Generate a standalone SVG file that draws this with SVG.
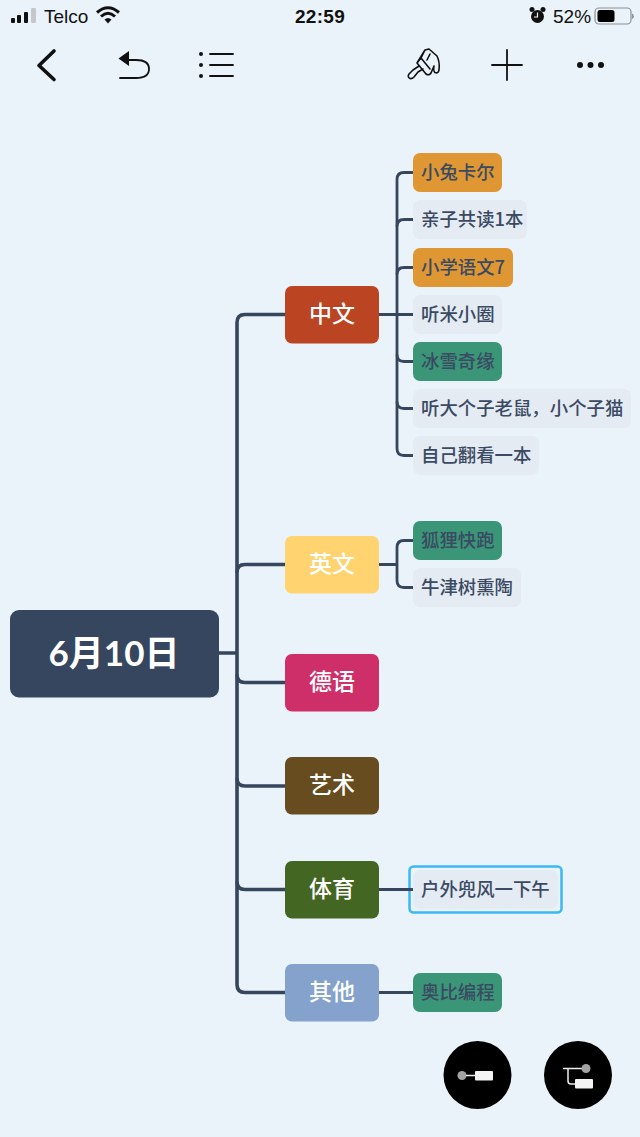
<svg xmlns="http://www.w3.org/2000/svg" width="640" height="1137" viewBox="0 0 640 1137">
<style>
text{font-family:"Noto Sans CJK SC","Noto Sans",sans-serif}
.c1{fill:none;stroke:#35465e;stroke-width:3.6}
.c2{fill:none;stroke:#35465e;stroke-width:2.8}
.b{font-size:23px;font-weight:500;fill:#fff;text-anchor:middle}
.l{font-size:18.400px;font-weight:500;fill:#3a4a63}
.ic{fill:none;stroke:#111;stroke-linecap:round;stroke-linejoin:round}
.st{font-family:"Liberation Sans",Arial,sans-serif;font-size:19px;fill:#111}
</style>
<rect width="640" height="1137" fill="#ebf3fa"/>
<g id="statusbar">
<rect x="11" y="18" width="4" height="5" rx="1" fill="#111"/>
<rect x="17" y="15" width="4" height="8" rx="1" fill="#111"/>
<rect x="24" y="12" width="4" height="11" rx="1" fill="#111"/>
<rect x="31" y="8" width="5" height="15" rx="1" fill="#c4c8cc"/>
<text class="st" x="44" y="23">Telco</text>
<path d="M97 12.500Q108 3 119 12.500M101 16.500Q108 10 115 16.500" fill="none" stroke="#111" stroke-width="3"/>
<path d="M104.500 19.500Q108 16.500 111.500 19.500L108 23.500Z" fill="#111"/>
<text class="st" x="320" y="23" text-anchor="middle" font-weight="700" style="letter-spacing:.3px">22:59</text>
<circle cx="537.500" cy="16.500" r="6.500" fill="#111"/>
<circle cx="532" cy="9.500" r="2.500" fill="#111"/><circle cx="543" cy="9.500" r="2.500" fill="#111"/>
<path d="M537.500 12.500V17H534" stroke="#ebf3fa" stroke-width="1.200" fill="none"/>
<text class="st" x="553" y="23">52%</text>
<rect x="595" y="8" width="36" height="16" rx="4" fill="none" stroke="#8d9094" stroke-width="1.200"/>
<rect x="597.500" y="10" width="17" height="12" rx="2.500" fill="#000"/>
<path d="M632 13.500a3 3 0 0 1 0 5.500z" fill="#8d9094"/>
</g>
<g id="toolbar">
<path class="ic" stroke-width="3.600" d="M54 51L39 65.500L54 79.500"/>
<path class="ic" stroke-width="1.800" d="M128 60H136Q149 60 149 69Q149 78 136 78H120"/>
<path d="M118.500 58.500L129 51V66Z" fill="#111"/>
<circle cx="201" cy="54" r="2" fill="#111"/><circle cx="201" cy="65" r="2" fill="#111"/><circle cx="201" cy="76" r="2" fill="#111"/>
<path class="ic" stroke-width="1.800" d="M210 54H233M210 65H233M210 76H233"/>
<path class="ic" stroke-width="1.600" d="M425 50L429 49L437 56Q440 62 439 70Q438 74 435 72.500Q433 71 434 66L431 73Q429 76 426 74L417 63ZM425 50L421 58M417 63L421 58L430 69M419 66L413 70L409 74Q407 77 410 78.500Q412 79 414 77L418 72L423 69M430 54L427 60"/>
<path class="ic" stroke-width="1.800" d="M507 50V80M492 65H522"/>
<circle cx="580" cy="65" r="3" fill="#111"/><circle cx="590.500" cy="65" r="3" fill="#111"/><circle cx="601" cy="65" r="3" fill="#111"/>
</g>
<g id="connectors">
<path class="c1" d="M219 653H237M285 314.500H245Q237 314.500 237 322.500V984.500Q237 992.500 245 992.500H285"/>
<path class="c1" d="M285 564.500H245Q237 564.500 237 572.500M285 682.500H245Q237 682.500 237 674.500M285 786H245Q237 786 237 778M285 889.500H245Q237 889.500 237 881.500"/>
<path class="c2" d="M379 314.500H413M413 172.500H404Q397 172.500 397 179.500V448.500Q397 455.500 404 455.500H413"/>
<path class="c2" d="M413 219.500H404Q397 219.500 397 226.500M413 267.500H404Q397 267.500 397 274.500M413 361.500H404Q397 361.500 397 354.500M413 408.500H404Q397 408.500 397 401.500"/>
<path class="c2" d="M379 564.500H397M413 540.500H404Q397 540.500 397 547.500V580.500Q397 587.500 404 587.500H413"/>
<path class="c2" d="M379 992.500H413"/>
</g>
<g id="root"><rect x="10" y="610" width="209" height="87.500" rx="9" fill="#35465e"/><text x="114" y="666" text-anchor="middle" font-size="35" font-weight="700" fill="#fff" style="font-family:Lato,'Noto Sans CJK SC',sans-serif">6月10日</text></g>
<g id="n-zhongwen"><rect x="285" y="286" width="94" height="57.500" rx="7" fill="#bb4423"/><text class="b" x="332" y="322">中文</text></g>
<g id="n-yingwen"><rect x="285" y="536" width="94" height="57.500" rx="7" fill="#ffd36f"/><text class="b" x="332" y="572">英文</text></g>
<g id="n-deyu"><rect x="285" y="654" width="94" height="57.500" rx="7" fill="#cf2f69"/><text class="b" x="332" y="690">德语</text></g>
<g id="n-yishu"><rect x="285" y="757" width="94" height="57.500" rx="7" fill="#664c1e"/><text class="b" x="332" y="793">艺术</text></g>
<g id="n-tiyu"><rect x="285" y="861" width="94" height="57.500" rx="7" fill="#436722"/><text class="b" x="332" y="897">体育</text></g>
<g id="n-qita"><rect x="285" y="964" width="94" height="57.500" rx="7" fill="#84a2cb"/><text class="b" x="332" y="1000">其他</text></g>
<g id="l1"><rect x="413" y="153" width="89" height="39" rx="7" fill="#df9734"/><text class="l" x="421" y="179">小兔卡尔</text></g>
<g id="l2"><rect x="413" y="200" width="114" height="39" rx="7" fill="#e5ebf2"/><text class="l" x="421" y="226">亲子共读1本</text></g>
<g id="l3"><rect x="413" y="248" width="100" height="39" rx="7" fill="#df9734"/><text class="l" x="421" y="274">小学语文7</text></g>
<g id="l4"><rect x="413" y="295" width="89" height="39" rx="7" fill="#e5ebf2"/><text class="l" x="421" y="321">听米小圈</text></g>
<g id="l5"><rect x="413" y="342" width="89" height="39" rx="7" fill="#3b9677"/><text class="l" x="421" y="368">冰雪奇缘</text></g>
<g id="l6"><rect x="413" y="389" width="218" height="39" rx="7" fill="#e5ebf2"/><text class="l" x="421" y="415">听大个子老鼠，小个子猫</text></g>
<g id="l7"><rect x="413" y="436" width="126" height="39" rx="7" fill="#e5ebf2"/><text class="l" x="421" y="462">自己翻看一本</text></g>
<g id="l8"><rect x="413" y="521" width="89" height="39" rx="7" fill="#3b9677"/><text class="l" x="421" y="547">狐狸快跑</text></g>
<g id="l9"><rect x="413" y="568" width="108" height="39" rx="7" fill="#e5ebf2"/><text class="l" x="421" y="594">牛津树熏陶</text></g>
<g id="l10"><rect x="409.500" y="866.500" width="152" height="46" rx="4" fill="#ebf3fa" stroke="#3bb9f2" stroke-width="2.500"/><rect x="413" y="870" width="145" height="39" rx="7" fill="#e5ebf2"/><path class="c2" d="M379 889.500H413"/><text class="l" x="421" y="896">户外兜风一下午</text></g>
<g id="l11"><rect x="413" y="973" width="89" height="39" rx="7" fill="#3b9677"/><text class="l" x="421" y="999">奥比编程</text></g>
<g id="fab1"><circle cx="477.500" cy="1075" r="34" fill="#000"/><circle cx="462" cy="1075.500" r="4.500" fill="#a3a3a3"/><path d="M466 1075.500H476" stroke="#eee" stroke-width="1.500"/><rect x="475" y="1071" width="18" height="9.500" rx="1" fill="#f4f4f4"/></g>
<g id="fab2"><circle cx="578" cy="1075" r="34" fill="#000"/><path d="M563 1068.500H586M568 1068.500V1081Q568 1084 571 1084H576" fill="none" stroke="#eee" stroke-width="1.500"/><circle cx="586" cy="1068.500" r="4.500" fill="#a3a3a3"/><rect x="575" y="1079" width="18" height="9.500" rx="1" fill="#f4f4f4"/></g>
</svg>
